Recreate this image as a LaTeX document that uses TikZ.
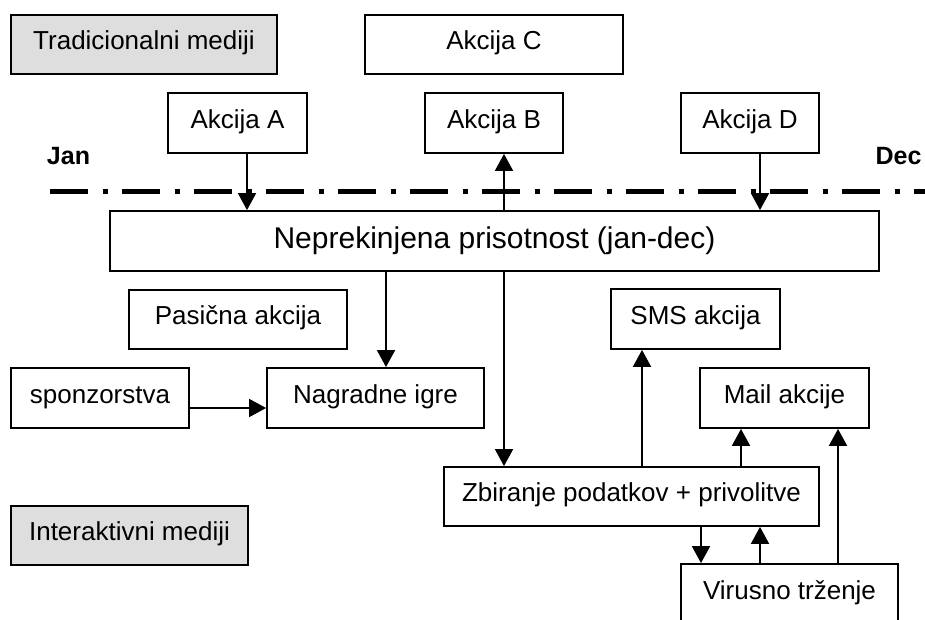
\documentclass[tikz,border=0pt]{standalone}
\usepackage{fontspec}
\setmainfont{Liberation Sans}
\usetikzlibrary{arrows.meta}

\begin{document}
\begin{tikzpicture}[x=1pt,y=-1pt,
    box/.style={draw=black, line width=1.8pt, fill=white, inner sep=0pt,
      font=\fontsize{26pt}{30pt}\selectfont, text height=20pt, text depth=9.6pt},
    graybox/.style={box, fill=black!13},
    arr/.style={line width=1.8pt, -{Triangle[length=17pt,width=18pt]}},
    month/.style={font=\fontsize{25pt}{29pt}\selectfont\bfseries, inner sep=0pt}]

  \useasboundingbox (0,0) rectangle (925,620);
  \clip (0,0) rectangle (925,620);

  % legend boxes
  \node[graybox, minimum width=266pt, minimum height=59pt] (trad) at (144,44.5) {Tradicionalni mediji};
  \node[graybox, minimum width=237pt, minimum height=59pt] (inter) at (129.5,535.5) {Interaktivni mediji};

  % traditional media actions
  \node[box, minimum width=258pt, minimum height=59pt] (akC) at (494,44.5) {Akcija C};
  \node[box, minimum width=139pt, minimum height=60pt] (akA) at (237.5,123) {Akcija A};
  \node[box, minimum width=138pt, minimum height=60pt] (akB) at (494,123) {Akcija B};
  \node[box, minimum width=138pt, minimum height=60pt] (akD) at (750,123) {Akcija D};

  % timeline
  \node[month] (jan) at (68.5,156.5) {Jan};
  \node[month] (dec) at (898.5,156.5) {Dec};
  \coordinate (tl0) at (50,192);
  \coordinate (tl1) at (925,192);
  \draw[line width=5pt, dash pattern=on 38pt off 15pt on 5pt off 14pt] (tl0) -- (tl1);

  % continuous presence
  \node[box, minimum width=769pt, minimum height=60pt,
        font=\fontsize{30pt}{34pt}\selectfont, text height=26pt, text depth=12pt]
        (nep) at (494.5,241) {Neprekinjena prisotnost (jan-dec)};

  % interactive media
  \node[box, minimum width=218pt, minimum height=59pt] (pas) at (238,319.5) {Pasična akcija};
  \node[box, minimum width=178pt, minimum height=60pt] (spo) at (100,398) {sponzorstva};
  \node[box, minimum width=217pt, minimum height=60pt] (nag) at (375.5,398) {Nagradne igre};
  \node[box, minimum width=169pt, minimum height=60pt] (sms) at (695.5,319) {SMS akcija};
  \node[box, minimum width=169pt, minimum height=60pt] (mail) at (784.5,398) {Mail akcije};
  \node[box, minimum width=375pt, minimum height=59pt] (zbi) at (631.5,496.5) {Zbiranje podatkov + privolitve};
  \node[box, minimum width=217pt, minimum height=60pt] (vir) at (789.5,594) {Virusno trženje};

  % connectors
  \draw[arr] ([xshift=9.5pt]akA.south) -- ([xshift=9.5pt]akA.south |- nep.north);
  \draw[arr] ([xshift=10pt]akB.south |- nep.north) -- ([xshift=10pt]akB.south);
  \draw[arr] ([xshift=10pt]akD.south) -- ([xshift=10pt]akD.south |- nep.north);
  \draw[arr] ([xshift=10.5pt]nag.north |- nep.south) -- ([xshift=10.5pt]nag.north);
  \draw[arr] ([xshift=9.5pt]nep.south) -- ([xshift=9.5pt]nep.south |- zbi.north);
  \draw[arr] ([yshift=-10pt]spo.east) -- ([yshift=-10pt]spo.east -| nag.west);
  \draw[arr] ([xshift=-53.5pt]sms.south |- zbi.north) -- ([xshift=-53.5pt]sms.south);
  \draw[arr] ([xshift=-43.5pt]mail.south |- zbi.north) -- ([xshift=-43.5pt]mail.south);
  \draw[arr] ([xshift=-88.5pt]vir.north |- zbi.south) -- ([xshift=-88.5pt]vir.north);
  \draw[arr] ([xshift=-29.5pt]vir.north) -- ([xshift=-29.5pt]vir.north |- zbi.south);
  \draw[arr] ([xshift=48.5pt]vir.north) -- ([xshift=48.5pt]vir.north |- mail.south);
\end{tikzpicture}
\end{document}
